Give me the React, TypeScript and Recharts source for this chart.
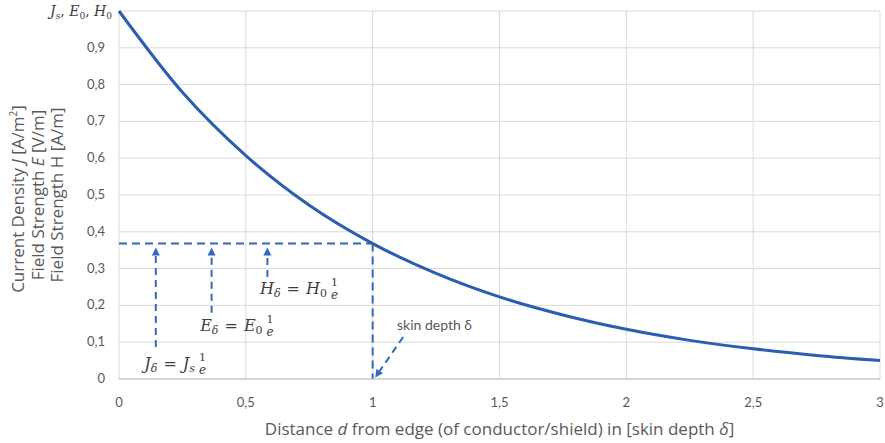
import { LineChart, Line, XAxis, YAxis, CartesianGrid, ReferenceLine, ReferenceDot } from 'recharts';

// distance in skin depths and the decay
const distance = [0, 0.25, 0.5, 0.75, 1, 1.25, 1.5, 1.75, 2, 2.25, 2.5, 2.75, 3];
const amplitude = [1, 0.779, 0.607, 0.472, 0.368, 0.287, 0.223, 0.174, 0.135, 0.105, 0.082, 0.064, 0.05];

const xTicks = [0, 0.5, 1, 1.5, 2, 2.5, 3];
const yTicks = [0, 0.1, 0.2, 0.3, 0.4, 0.5, 0.6, 0.7, 0.8, 0.9, 1];

// 1/e level at one skin depth
const skinDepth = 1;
const skinLevel = 0.368;

// up arrows: x, start y, end y
const arrowX = [0.145, 0.365, 0.585];
const arrowFrom = [0.087, 0.18, 0.277];
const arrowTo = 0.357;

// labels under the arrows: J, E, H
const labelSymbols = ['J', 'E', 'H'];
const labelRefSubs = ['s', '0', '0'];
const labelX = [0.1, 0.32, 0.556];
const labelY = [0.027, 0.13, 0.23];

const skinText = 'skin depth δ';
const skinTextPos = { x: 1.096, y: 0.133 };
const skinArrow = [{ x: 1.12, y: 0.114 }, { x: 1.01, y: 0.004 }];

const data = distance.map((d, i) => ({ d, v: amplitude[i] }));

const BLUE = '#2B5DB1';
const DASH = '#3367C0';
const GRAY = '#595959';
const MATH = '#404040';
const SANS = 'Lato, "Open Sans", sans-serif';
const TITLE = '"Open Sans", Lato, sans-serif';
const SERIF = '"DejaVu Serif", "Liberation Serif", serif';

const comma = (v: number) => String(v).replace('.', ',');

const YTick = (props: any) => {
  const { x, y, payload } = props;
  if (payload.value === 1) {
    return (
      <text x={x + 7} y={y + 5} textAnchor="end" fontFamily={SERIF} fontSize={14} fill={MATH}>
        <tspan fontStyle="italic">J</tspan>
        <tspan fontSize={9} dy={3} fontStyle="italic">s</tspan>
        <tspan dy={-3}>, </tspan>
        <tspan fontStyle="italic">E</tspan>
        <tspan fontSize={9} dy={3}>0</tspan>
        <tspan dy={-3}>, </tspan>
        <tspan fontStyle="italic">H</tspan>
        <tspan fontSize={9} dy={3}>0</tspan>
      </text>
    );
  }
  return (
    <text x={x} y={y + 4} textAnchor="end" fontFamily={SANS} fontSize={13} fill={GRAY}>
      {comma(payload.value)}
    </text>
  );
};

const YLabel = () => (
  <g fontFamily={TITLE} fontSize={17} fill={GRAY} textAnchor="middle">
    <text transform="translate(24,199) rotate(-90)">
      Current Density <tspan fontStyle="italic">J</tspan> [A/m<tspan fontSize={10} dy={-7}>2</tspan><tspan dy={7}>]</tspan>
    </text>
    <text transform="translate(44,195) rotate(-90)">
      Field Strength <tspan fontStyle="italic">E</tspan> [V/m]
    </text>
    <text transform="translate(63,195) rotate(-90)">Field Strength H [A/m]</text>
  </g>
);

const XLabel = (props: any) => {
  const { viewBox } = props;
  return (
    <text x={viewBox.x + viewBox.width / 2} y={435} textAnchor="middle" fontFamily={TITLE} fontSize={17} fill={GRAY}>
      Distance <tspan fontStyle="italic">d</tspan> from edge (of conductor/shield) in [skin depth <tspan fontStyle="italic">δ</tspan>]
    </text>
  );
};

const arrowShape = (p: any) => {
  const { x1, y1, x2, y2 } = p;
  const ang = Math.atan2(y2 - y1, x2 - x1);
  const hl = 8;
  const hw = 4;
  const bx = x2 - hl * Math.cos(ang);
  const by = y2 - hl * Math.sin(ang);
  const px = -Math.sin(ang) * hw;
  const py = Math.cos(ang) * hw;
  return (
    <g>
      <line x1={x1} y1={y1} x2={bx} y2={by} stroke={DASH} strokeWidth={2} strokeDasharray="7 5" />
      <polygon points={`${x2},${y2} ${bx + px},${by + py} ${bx - px},${by - py}`} fill={DASH} />
    </g>
  );
};

const mathLabel = (i: number) => (p: any) => {
  const { cx, cy } = p;
  const s = labelSymbols[i];
  return (
    <text x={cx} y={cy} fontFamily={SERIF} fill={MATH} fontSize={16}>
      <tspan fontStyle="italic">{s}</tspan>
      <tspan fontSize={11} dy={3} fontStyle="italic">δ</tspan>
      <tspan dx={6} dy={-3}>=</tspan>
      <tspan dx={6} fontStyle="italic">{s}</tspan>
      <tspan fontSize={11} dy={3} fontStyle={labelRefSubs[i] === 's' ? 'italic' : 'normal'}>{labelRefSubs[i]}</tspan>
      <tspan fontSize={11} dx={4} dy={-11}>1</tspan>
      <tspan fontSize={12} fontStyle="italic" dx={-7} dy={13}>e</tspan>
    </text>
  );
};

const skinLabel = (p: any) => (
  <text x={p.cx} y={p.cy} fontFamily={SANS} fontSize={14} fill={GRAY}>
    {skinText}
  </text>
);

export default function App() {
  return (
    <div style={{ position: 'absolute', left: 0, top: 0 }}>
      <LineChart width={885} height={443} data={data} margin={{ top: 11, right: 5, bottom: 0, left: 0 }}>
        <CartesianGrid stroke="#d9d9d9" strokeWidth={1} />
        <XAxis
          dataKey="d"
          type="number"
          domain={[0, 3]}
          ticks={xTicks}
          tickFormatter={comma}
          height={64}
          tickLine={false}
          tickMargin={13}
          stroke="#bfbfbf"
          tick={{ fill: GRAY, fontSize: 13, fontFamily: SANS }}
          label={<XLabel />}
        />
        <YAxis
          type="number"
          domain={[0, 1]}
          ticks={yTicks}
          width={119}
          axisLine={false}
          tickLine={false}
          tickMargin={8}
          tick={<YTick />}
          label={<YLabel />}
        />
        <ReferenceLine
          segment={[{ x: 0, y: skinLevel }, { x: skinDepth, y: skinLevel }]}
          stroke={DASH}
          strokeWidth={2}
          strokeDasharray="8 5"
        />
        <ReferenceLine
          segment={[{ x: skinDepth, y: skinLevel }, { x: skinDepth, y: 0 }]}
          stroke={DASH}
          strokeWidth={2}
          strokeDasharray="8 5"
        />
        {arrowX.map((ax, i) => (
          <ReferenceLine key={`a${i}`} segment={[{ x: ax, y: arrowFrom[i] }, { x: ax, y: arrowTo }]} shape={arrowShape} />
        ))}
        <ReferenceLine segment={skinArrow} shape={arrowShape} />
        {labelX.map((lx, i) => (
          <ReferenceDot key={`l${i}`} x={lx} y={labelY[i]} r={0} shape={mathLabel(i)} />
        ))}
        <ReferenceDot x={skinTextPos.x} y={skinTextPos.y} r={0} shape={skinLabel} />
        <Line
          type="monotone"
          dataKey="v"
          stroke={BLUE}
          strokeWidth={3}
          dot={false}
          isAnimationActive={false}
        />
      </LineChart>
    </div>
  );
}
